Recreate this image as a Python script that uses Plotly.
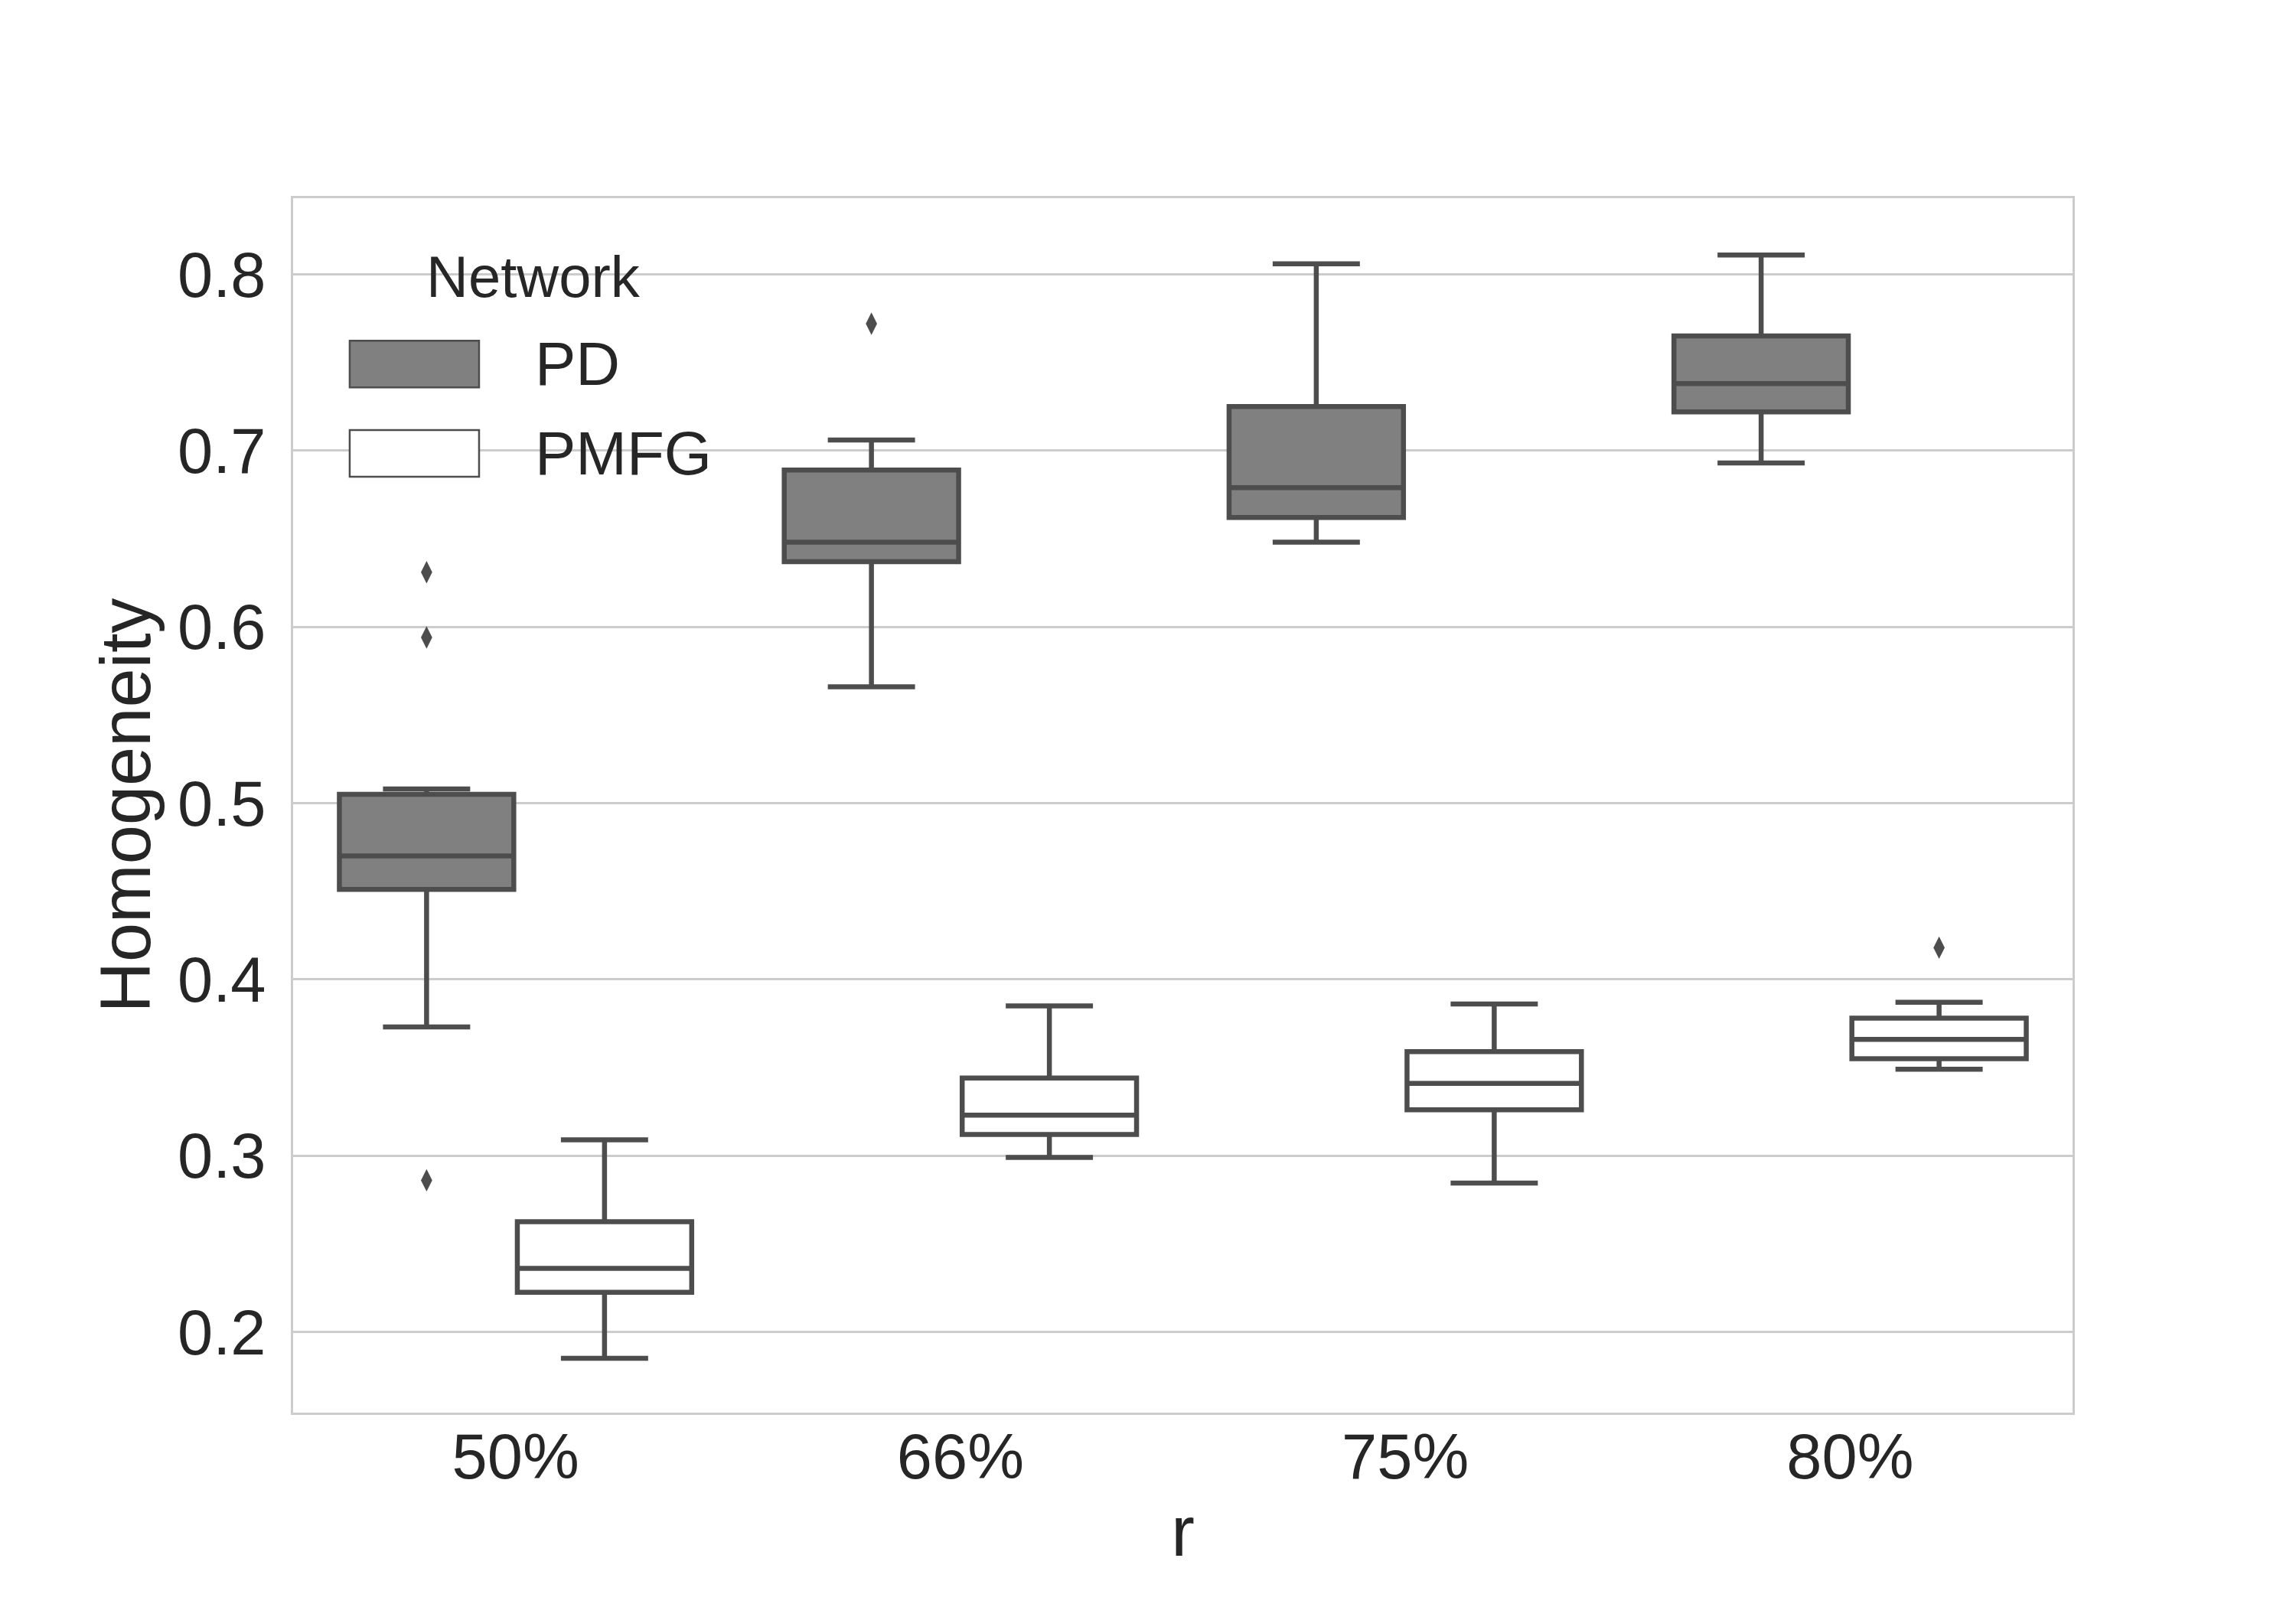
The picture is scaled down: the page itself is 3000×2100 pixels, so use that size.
import plotly.graph_objects as go

# ---- data ----
categories = ["50%", "66%", "75%", "80%"]
networks = ["PD", "PMFG"]

pd_lower = [0.373, 0.566, 0.648, 0.693]
pd_q1 = [0.451, 0.637, 0.662, 0.722]
pd_median = [0.470, 0.648, 0.679, 0.738]
pd_q3 = [0.505, 0.689, 0.725, 0.765]
pd_upper = [0.508, 0.706, 0.806, 0.811]
pd_outlier_cat = [0, 0, 0, 1]
pd_outlier_val = [0.631, 0.594, 0.286, 0.772]

pmfg_lower = [0.185, 0.299, 0.2845, 0.349]
pmfg_q1 = [0.2225, 0.312, 0.326, 0.355]
pmfg_median = [0.236, 0.323, 0.341, 0.366]
pmfg_q3 = [0.2625, 0.344, 0.359, 0.378]
pmfg_upper = [0.309, 0.385, 0.386, 0.387]
pmfg_outlier_cat = [3]
pmfg_outlier_val = [0.418]

y_ticks = [0.2, 0.3, 0.4, 0.5, 0.6, 0.7, 0.8]
y_tick_labels = ["0.2", "0.3", "0.4", "0.5", "0.6", "0.7", "0.8"]

# ---- styling ----
EDGE = "rgb(77,77,77)"
FILLS = {"PD": "rgb(128,128,128)", "PMFG": "rgb(255,255,255)"}
TEXT = "#262626"
FONT = "Liberation Sans, Arial, sans-serif"
OFFSET = 0.2
BOX_W = 0.392

series = {
    "PD": dict(lower=pd_lower, q1=pd_q1, med=pd_median, q3=pd_q3, upper=pd_upper,
               ocat=pd_outlier_cat, oval=pd_outlier_val, off=-OFFSET),
    "PMFG": dict(lower=pmfg_lower, q1=pmfg_q1, med=pmfg_median, q3=pmfg_q3, upper=pmfg_upper,
                 ocat=pmfg_outlier_cat, oval=pmfg_outlier_val, off=OFFSET),
}

fig = go.Figure()
for name in networks:
    s = series[name]
    xs = [i + s["off"] for i in range(len(categories))]
    fig.add_trace(go.Box(
        name=name, x=xs,
        q1=s["q1"], median=s["med"], q3=s["q3"],
        lowerfence=s["lower"], upperfence=s["upper"],
        width=BOX_W, whiskerwidth=0.5,
        fillcolor=FILLS[name],
        line=dict(color=EDGE, width=6.5),
        boxpoints=False, showlegend=False, hoverinfo="skip",
    ))
    fig.add_trace(go.Scatter(
        x=[c + s["off"] for c in s["ocat"]], y=s["oval"], mode="markers",
        marker=dict(symbol="diamond-tall", size=21, color=EDGE, line=dict(width=0)),
        showlegend=False, hoverinfo="skip",
    ))

# ---- manual legend (seaborn-style large patches) ----
legend_items = [("PD", 0.8634), ("PMFG", 0.7899)]
patch_x0, patch_x1, patch_h = 0.0318, 0.1045, 0.0384
for name, yc in legend_items:
    fig.add_shape(type="rect", xref="paper", yref="paper",
                  x0=patch_x0, x1=patch_x1, y0=yc - patch_h / 2, y1=yc + patch_h / 2,
                  fillcolor=FILLS[name], line=dict(color=EDGE, width=2.5), layer="above")
    fig.add_annotation(xref="paper", yref="paper", x=0.1352, y=yc, text=name,
                       showarrow=False, xanchor="left", yanchor="middle",
                       font=dict(family=FONT, size=80, color=TEXT))
fig.add_annotation(xref="paper", yref="paper", x=0.1349, y=0.9351, text="Network",
                   showarrow=False, xanchor="center", yanchor="middle",
                   font=dict(family=FONT, size=76, color=TEXT))

fig.update_layout(
    width=3000, height=2100,
    margin=dict(l=375, r=300, t=251, b=262),
    paper_bgcolor="white", plot_bgcolor="white",
    font=dict(family=FONT, size=83, color=TEXT),
    showlegend=False,
)
fig.update_xaxes(
    range=[-0.5, 3.5],
    tickmode="array", tickvals=list(range(len(categories))), ticktext=categories,
    showgrid=False, zeroline=False,
    showline=True, mirror=True, linecolor="#cccccc", linewidth=3,
    ticks="", tickfont=dict(size=83, color=TEXT), ticklabelstandoff=-17,
    title=dict(text="r", font=dict(size=92, color=TEXT), standoff=20),
)
fig.update_yaxes(
    range=[0.1542, 0.8432],
    tickmode="array", tickvals=y_ticks, ticktext=y_tick_labels,
    showgrid=True, gridcolor="#cccccc", gridwidth=3, zeroline=False,
    showline=True, mirror=True, linecolor="#cccccc", linewidth=3,
    ticks="", tickfont=dict(size=83, color=TEXT), ticklabelstandoff=16,
    title=dict(text="Homogeneity", font=dict(size=92, color=TEXT), standoff=5),
)

fig.write_html("out.html")
